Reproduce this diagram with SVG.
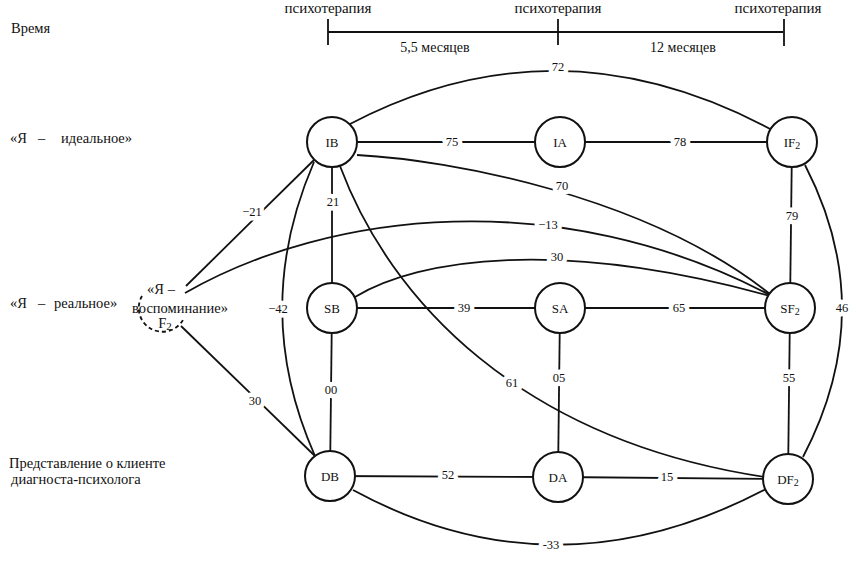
<svg xmlns="http://www.w3.org/2000/svg" width="860" height="580" viewBox="0 0 860 580">
<style>
  text { font-family: "Liberation Serif", "DejaVu Serif", serif; fill: #111; }
  .lbl { font-size: 14.5px; }
  .hdr { font-size: 14px; }
  .psy { font-size: 15px; text-anchor: middle; }
  .node circle { fill: #fff; stroke: #111; stroke-width: 2; }
  .node text { font-size: 13px; text-anchor: middle; }
  .edge { fill: none; stroke: #111; stroke-width: 1.8; }
  .el { font-size: 12.5px; text-anchor: middle; stroke: #fff; stroke-width: 9; paint-order: stroke; stroke-linejoin: round; }
  .dash { fill: none; stroke: #111; stroke-width: 1.8; stroke-dasharray: 4 3; }
</style>
<rect width="860" height="580" fill="#fff"/>

<g id="timeline">
  <line x1="328" y1="32" x2="783" y2="32" class="edge" stroke-width="2"/>
  <line x1="328" y1="19" x2="328" y2="45" class="edge" stroke-width="2"/>
  <line x1="558" y1="19" x2="558" y2="45" class="edge" stroke-width="2"/>
  <line x1="784" y1="19" x2="784" y2="46" class="edge" stroke-width="2"/>
  <text x="328" y="13" class="psy">психотерапия</text>
  <text x="558" y="13" class="psy">психотерапия</text>
  <text x="778" y="13" class="psy">психотерапия</text>
  <text x="435" y="52" class="hdr" text-anchor="middle">5,5 месяцев</text>
  <text x="683" y="52" class="hdr" text-anchor="middle">12 месяцев</text>
</g>

<g id="row-labels">
  <text x="11" y="33" class="lbl">Время</text>
  <text x="10" y="143" class="lbl">«Я</text><text x="38" y="143" class="lbl">–</text><text x="61" y="143" class="lbl">идеальное»</text>
  <text x="10" y="308" class="lbl">«Я</text><text x="38" y="308" class="lbl">–</text><text x="54" y="308" class="lbl">реальное»</text>
  <text x="9" y="468" class="lbl">Представление о клиенте</text>
  <text x="11" y="484" class="lbl">диагноста-психолога</text>
</g>

<g id="connectors">
  <line x1="332" y1="142" x2="560" y2="142" class="edge"/>
  <line x1="560" y1="142" x2="792" y2="142" class="edge"/>
  <line x1="332" y1="142" x2="332" y2="308" class="edge"/>
  <line x1="792" y1="142" x2="790" y2="308" class="edge"/>
  <line x1="332" y1="308" x2="560" y2="308" class="edge"/>
  <line x1="560" y1="308" x2="790" y2="308" class="edge"/>
  <line x1="332" y1="308" x2="330" y2="476" class="edge"/>
  <line x1="560" y1="308" x2="558" y2="477" class="edge"/>
  <line x1="790" y1="308" x2="788" y2="479" class="edge"/>
  <line x1="330" y1="476" x2="558" y2="477" class="edge"/>
  <line x1="558" y1="477" x2="788" y2="479" class="edge"/>
  <path d="M350,124 Q558,15 772,130" class="edge"/>
  <path d="M805,165 Q880,310 803,457" class="edge"/>
  <path d="M353,490 Q555,600 766,489" class="edge"/>
  <path d="M314,162 Q250,310 315,456" class="edge"/>
  <path d="M357,155 C450,160 645,195 770,294" class="edge"/>
  <path d="M185,293 C330,210 560,185 770,295" class="edge"/>
  <path d="M355,297 C420,258 560,238 770,296" class="edge"/>
  <path d="M340,166 C390,300 520,440 765,477" class="edge"/>
  <line x1="186" y1="286" x2="314" y2="160" class="edge"/>
  <line x1="181" y1="326" x2="316" y2="457" class="edge"/>
  <path d="M142,296 A22,22 0 1 0 183,320" class="dash"/>
  <text x="558" y="71" class="el">72</text>
  <text x="452" y="146" class="el">75</text>
  <text x="680" y="146" class="el">78</text>
  <text x="562" y="190" class="el">70</text>
  <text x="333" y="206" class="el">21</text>
  <text x="792" y="220" class="el">79</text>
  <text x="252" y="216" class="el">−21</text>
  <text x="548" y="229" class="el">−13</text>
  <text x="557" y="261" class="el">30</text>
  <text x="464" y="312" class="el">39</text>
  <text x="679" y="312" class="el">65</text>
  <text x="278" y="313" class="el">−42</text>
  <text x="842" y="312" class="el">46</text>
  <text x="331" y="394" class="el">00</text>
  <text x="559" y="382" class="el">05</text>
  <text x="789" y="382" class="el">55</text>
  <text x="512" y="387" class="el">61</text>
  <text x="255" y="405" class="el">30</text>
  <text x="448" y="479" class="el">52</text>
  <text x="667" y="481" class="el">15</text>
  <text x="551" y="549" class="el">-33</text>
</g>

<g id="node-F2">
  <text x="161" y="294" class="lbl" text-anchor="middle">«Я –</text>
  <text x="180" y="313" class="lbl" text-anchor="middle">воспоминание»</text>
  <text x="165" y="328" class="lbl" text-anchor="middle">F<tspan font-size="11" dy="2">2</tspan></text>
</g>

<g id="node-IB" class="node"><circle cx="332" cy="142" r="25"/><text x="332" y="147">IB</text></g>
<g id="node-IA" class="node"><circle cx="560" cy="142" r="25"/><text x="560" y="147">IA</text></g>
<g id="node-IF2" class="node"><circle cx="792" cy="142" r="25"/><text x="792" y="147">IF<tspan font-size="10" dy="2">2</tspan></text></g>
<g id="node-SB" class="node"><circle cx="332" cy="308" r="25"/><text x="332" y="313">SB</text></g>
<g id="node-SA" class="node"><circle cx="560" cy="308" r="25"/><text x="560" y="313">SA</text></g>
<g id="node-SF2" class="node"><circle cx="790" cy="308" r="25"/><text x="790" y="313">SF<tspan font-size="10" dy="2">2</tspan></text></g>
<g id="node-DB" class="node"><circle cx="330" cy="476" r="25"/><text x="330" y="481">DB</text></g>
<g id="node-DA" class="node"><circle cx="558" cy="477" r="25"/><text x="558" y="482">DA</text></g>
<g id="node-DF2" class="node"><circle cx="788" cy="479" r="25"/><text x="788" y="484">DF<tspan font-size="10" dy="2">2</tspan></text></g>
</svg>
